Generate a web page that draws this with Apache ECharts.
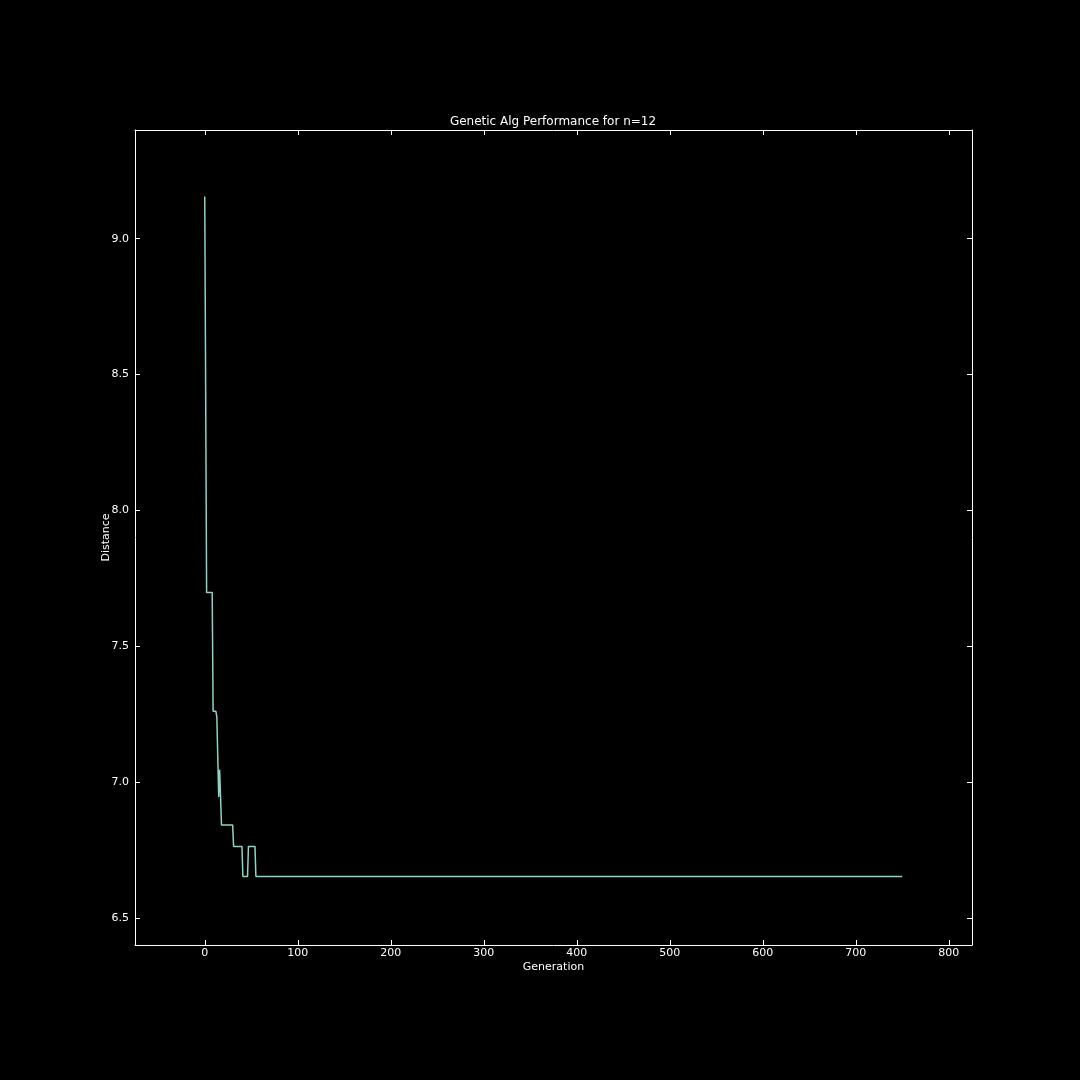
<!DOCTYPE html>
<html>
<head>
<meta charset="utf-8">
<script src="https://cdn.jsdelivr.net/npm/echarts@6/dist/echarts.min.js"></script>
<style>
  html, body { margin: 0; padding: 0; background: #000; }
  #chart { width: 1080px; height: 1080px; }
</style>
</head>
<body>
<div id="chart"></div>
<script>
'use strict';

// generations where the best distance changes
var generations = [0, 1, 2, 8, 9, 12, 13, 15, 16, 17, 18, 30, 31, 40, 41, 46, 47, 54, 55, 750];
var distances = [9.155, 9.155, 7.698, 7.698, 7.26, 7.26, 7.24, 6.945, 7.045, 6.945, 6.842, 6.842,
    6.763, 6.763, 6.652, 6.652, 6.763, 6.763, 6.652, 6.652];

var xTicks = [0, 100, 200, 300, 400, 500, 600, 700, 800];
var yTicks = [6.5, 7.0, 7.5, 8.0, 8.5, 9.0];

var points = generations.map(function (g, i) {
    return [g, distances[i]];
});

var fontFamily = 'DejaVu Sans';
var white = '#ffffff';

function xAxisDef(pos, showLabel) {
    return {
        type: 'value',
        position: pos,
        min: -75,
        max: 825,
        name: showLabel ? 'Generation' : '',
        nameLocation: 'middle',
        nameGap: 17,
        nameMoveOverlap: false,
        nameTextStyle: {color: white, fontSize: 11, fontFamily: fontFamily},
        axisLine: {show: true, onZero: false, lineStyle: {color: white, width: 1}},
        axisTick: {show: true, inside: true, length: 5, customValues: xTicks, lineStyle: {color: white}},
        axisLabel: {
            show: showLabel, customValues: xTicks, color: white, fontSize: 11,
            fontFamily: fontFamily, margin: 3
        },
        splitLine: {show: false}
    };
}

function yAxisDef(pos, showLabel) {
    return {
        type: 'value',
        position: pos,
        min: 6.4,
        max: 9.4,
        name: showLabel ? 'Distance' : '',
        nameLocation: 'middle',
        nameGap: 23,
        nameMoveOverlap: false,
        nameRotate: 90,
        nameTextStyle: {color: white, fontSize: 11, fontFamily: fontFamily},
        axisLine: {show: true, onZero: false, lineStyle: {color: white, width: 1}},
        axisTick: {show: true, inside: true, length: 5, customValues: yTicks, lineStyle: {color: white}},
        axisLabel: {
            show: showLabel, customValues: yTicks, color: white, fontSize: 11,
            fontFamily: fontFamily, margin: 6,
            formatter: function (v) { return v.toFixed(1); }
        },
        splitLine: {show: false}
    };
}

var myChart = echarts.init(document.getElementById('chart'));

var option = {
    backgroundColor: '#000000',
    animation: false,
    title: {
        text: 'Genetic Alg Performance for n=12',
        left: 548,
        textAlign: 'center',
        top: 111,
        textStyle: {color: white, fontSize: 12, fontWeight: 'normal', fontFamily: fontFamily}
    },
    grid: {left: 135, right: 108, top: 130, bottom: 135, containLabel: false},
    xAxis: [xAxisDef('bottom', true), xAxisDef('top', false)],
    yAxis: [yAxisDef('left', true), yAxisDef('right', false)],
    series: [
        {
            type: 'line',
            xAxisIndex: 0,
            yAxisIndex: 0,
            data: points,
            showSymbol: false,
            symbol: 'none',
            lineStyle: {color: '#8dd3c7', width: 1.5},
            z: 3
        }
    ]
};

myChart.setOption(option);
</script>
</body>
</html>
